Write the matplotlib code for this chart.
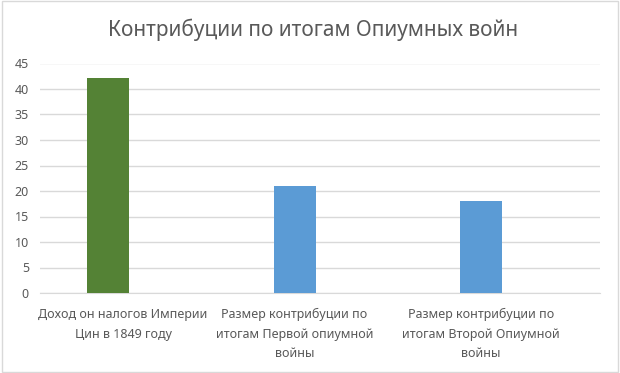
import matplotlib.pyplot as plt
from matplotlib.patches import Rectangle
import matplotlib.transforms as mtransforms

plt.rcParams['font.family'] = ['Noto Sans', 'DejaVu Sans']

title = "Контрибуции по итогам Опиумных войн"
categories = ["Доход он налогов Империи\nЦин в 1849 году",
              "Размер контрибуции по\nитогам Первой опиумной\nвойны",
              "Размер контрибуции по\nитогам Второй Опиумной\nвойны"]
values = [42.2, 21, 18]
colors = ['#548235', '#5B9BD5', '#5B9BD5']
yticks = [0, 5, 10, 15, 20, 25, 30, 35, 40, 45]

fig = plt.figure(figsize=(6.2, 3.73), dpi=100)
ax = fig.add_axes([40/620, 1-293/373, 560/620, 229.5/373])

x = range(len(values))
ax.bar(x, values, width=0.225, color=colors, zorder=3)

ax.set_xlim(-0.365, 2.638)
ax.set_ylim(0, 45)
ax.set_yticks(yticks)
ax.set_xticks(list(x))
ax.set_xticklabels(categories, fontsize=9, color='#595959', linespacing=1.65)
ax.tick_params(axis='y', labelsize=9, labelcolor='#595959', length=0, pad=8)
ax.tick_params(axis='x', length=0, pad=11)
ax.yaxis.grid(True, color='#D9D9D9', linewidth=1, zorder=0)
for s in ['top', 'right', 'left']:
    ax.spines[s].set_visible(False)
ax.spines['bottom'].set_color('#D9D9D9')

# first label is pushed right like in the original
lbl = ax.get_xticklabels()[0]
lbl.set_transform(lbl.get_transform() + mtransforms.ScaledTranslation(15/100, 0, fig.dpi_scale_trans))

fig.text(0.5 + 3/620, 1-30/373, title, ha='center', va='center', fontsize=15, color='#595959')

fig.patches.append(Rectangle((0.003, 0.003), 0.994, 0.994, transform=fig.transFigure,
                             fill=False, edgecolor='#D9D9D9', linewidth=1))

fig.savefig('out.png', dpi=100)
